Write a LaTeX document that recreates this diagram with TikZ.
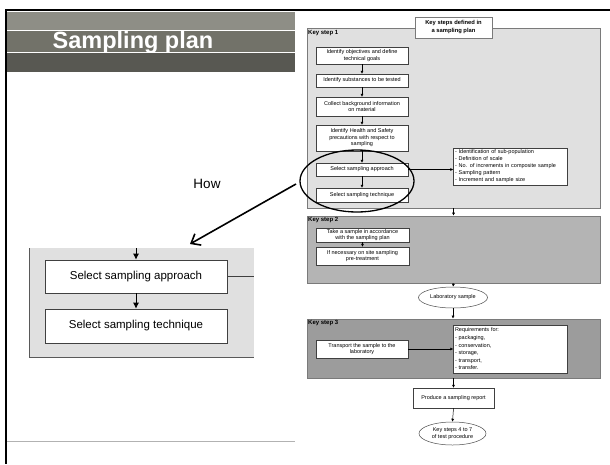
\documentclass[tikz,border=0pt]{standalone}
\usepackage{fontspec}
\setmainfont{Liberation Sans}
\usetikzlibrary{arrows.meta,shapes.geometric}
\definecolor{ksone}{HTML}{E0E0E0}
\definecolor{kstwo}{HTML}{B4B4B4}
\definecolor{ksthree}{HTML}{9C9C9C}
\definecolor{bordgray}{HTML}{7A7A7A}
\definecolor{hdrA}{HTML}{8E8E86}
\definecolor{hdrB}{HTML}{727269}
\definecolor{hdrC}{HTML}{585852}
\tikzset{
  panel/.style={draw=bordgray, line width=0.6pt, rectangle, inner sep=0pt},
  sbox/.style={draw=black!75, fill=white, line width=0.5pt, rectangle, inner sep=1pt, align=center,
    minimum width=92pt, font=\fontsize{5.5}{6.5}\selectfont},
  lbox/.style={draw=black!75, fill=white, line width=0.5pt, rectangle, inner sep=1.5pt, align=left,
    text width=111pt},
  ell/.style={draw=black!70, fill=white, ellipse, inner sep=0pt, line width=0.5pt, align=center,
    font=\fontsize{5.5}{6.5}\selectfont},
  kslabel/.style={anchor=north west, inner sep=0pt, font=\bfseries\fontsize{6}{7}\selectfont},
  arr/.style={-{Latex[length=3pt,width=3pt]}, line width=0.5pt, black},
  bigbox/.style={draw=black!75, fill=white, line width=0.7pt, rectangle, inner sep=0pt,
    minimum width=182pt, font=\fontsize{11.5}{13}\selectfont},
  bigarr/.style={-{Latex[length=6pt,width=6pt]}, line width=0.8pt, black}
}
\begin{document}
\begin{tikzpicture}[x=1pt,y=-1pt]
\useasboundingbox (0,0) rectangle (610,464);
\fill[white] (0,0) rectangle (610,464);
% header
\fill[hdrA] (7,12) rectangle (295,30);
\fill[hdrB] (7,30) rectangle (295,52);
\fill[hdrC] (7,52) rectangle (295,72);
\draw[white, line width=0.8pt] (7,30) -- (295,30);
\draw[white, line width=0.8pt] (7,52) -- (295,52);
\node[text=white, font=\bfseries\fontsize{23.5}{26}\selectfont, inner sep=0pt] (title) at (133,42) {Sampling plan};
% frame
\draw[black, line width=2.4pt] (5,10) -- (610,10);
\draw[black, line width=2.4pt] (6,9) -- (6,464);
% footer line
\draw[black!30, line width=0.6pt] (7,441) -- (295,441);

% key step panels
\node[panel, fill=ksone, minimum width=293pt, minimum height=180pt] (ks1) at (453.5,118) {};
\node[panel, fill=kstwo, minimum width=293pt, minimum height=67pt] (ks2) at (453.5,249.5) {};
\node[panel, fill=ksthree, minimum width=293pt, minimum height=59pt] (ks3) at (453.5,348.5) {};
\node[kslabel] (k1l) at (308,30) {Key step 1};
\node[kslabel] (k2l) at (308,217.5) {Key step 2};
\node[kslabel] (k3l) at (308,320.5) {Key step 3};
\node[draw=bordgray, fill=white, line width=0.6pt, minimum width=77pt, minimum height=21pt, inner sep=0pt,
  align=center, font=\bfseries\fontsize{5.8}{8}\selectfont] (kt) at (453.5,27.5) {Key steps defined in\\a sampling plan};

% key step 1 boxes
\node[sbox, minimum height=17pt] (b1) at (362,55.5) {Identify objectives and define\\technical goals};
\node[sbox, minimum height=13pt] (b2) at (362,80.5) {Identify substances to be tested};
\node[sbox, minimum height=19pt] (b3) at (362,106.5) {Collect background information\\on material};
\node[sbox, minimum height=26pt] (b4) at (362,138) {Identify Health and Safety\\precautions with respect to\\sampling};
\node[sbox, minimum height=13pt] (b5) at (362,169.5) {Select sampling approach};
\node[sbox, minimum height=14pt] (b6) at (362,195) {Select sampling technique};
\node[lbox, minimum height=37pt, font=\fontsize{5.5}{7}\selectfont] (lst) at (510.5,166.5) {- Identification of sub-population\\- Definition of scale\\- No. of increments in composite sample\\- Sampling pattern\\- Increment and sample size};
\draw[arr] (b1) -- (b2);
\draw[arr] (b2) -- (b3);
\draw[arr] (b3) -- (b4);
\draw[arr] (b4) -- (b5);
\draw[arr] (b5) -- (b6);
\draw[arr] (b5.east) -- (b5.east -| lst.west);

% key step 2 boxes
\node[sbox, minimum height=14pt, minimum width=93pt] (c1) at (362.5,235) {Take a sample in accordance\\with the sampling plan};
\node[sbox, minimum height=18pt, minimum width=93pt] (c2) at (362.5,256) {If necessary on site sampling\\pre-treatment};
\draw[arr] (c1) -- (c2);

% flow
\draw[arr] (ks1.south) -- (ks2.north);
\node[ell, minimum width=69pt, minimum height=21pt] (lab) at (453,297.5) {Laboratory sample};
\draw[arr] (ks2.south) -- (lab.north);
\draw[arr] (lab.south) -- (lab.south |- ks3.north);

% key step 3
\node[sbox, minimum height=18pt] (tr) at (362,349) {Transport the sample to the\\laboratory};
\node[lbox, minimum height=48pt, font=\fontsize{5.5}{7.6}\selectfont] (req) at (510.5,349) {Requirements for:\\- packaging,\\- conservation,\\- storage,\\- transport,\\- transfer.};
\draw[arr] (tr.east) -- (req.west);

\node[sbox, minimum width=81pt, minimum height=20pt] (rep) at (453.5,398) {Produce a sampling report};
\draw[arr] (ks3.south) -- (rep.north);
\node[ell, minimum width=67pt, minimum height=23pt] (fin) at (452.5,433.5) {Key steps 4 to 7\\of test procedure};
\draw[arr] (rep.south) -- (fin.north);

% highlight ellipse
\node[draw=black, line width=1.3pt, ellipse, minimum width=114pt, minimum height=62pt, inner sep=0pt] (hl) at (357,181) {};

% How
\node[font=\fontsize{13.5}{15}\selectfont, inner sep=0pt] (how) at (207,184) {How};
\coordinate (hs) at (296,184);
\coordinate (he) at (190,244);
\draw[-{Straight Barb[length=8pt,width=13pt,line width=1.6pt]}, line width=1.6pt, black] (hs) -- (he);

% zoomed fragment
\fill[ksone] (29,248) rectangle (254,357);
\draw[black!65, line width=0.7pt] (29,248) -- (29,357) -- (254,357);
\node[bigbox, minimum height=33pt] (a1) at (136,276.5) {Select sampling approach};
\node[bigbox, minimum height=34pt] (a2) at (136,326) {Select sampling technique};
\coordinate (ain) at (136,248);
\coordinate (aout) at (254,276.5);
\draw[bigarr] (ain) -- (a1.north);
\draw[bigarr] (a1) -- (a2);
\draw[black!75, line width=0.7pt] (a1.east) -- (aout);
\end{tikzpicture}
\end{document}
